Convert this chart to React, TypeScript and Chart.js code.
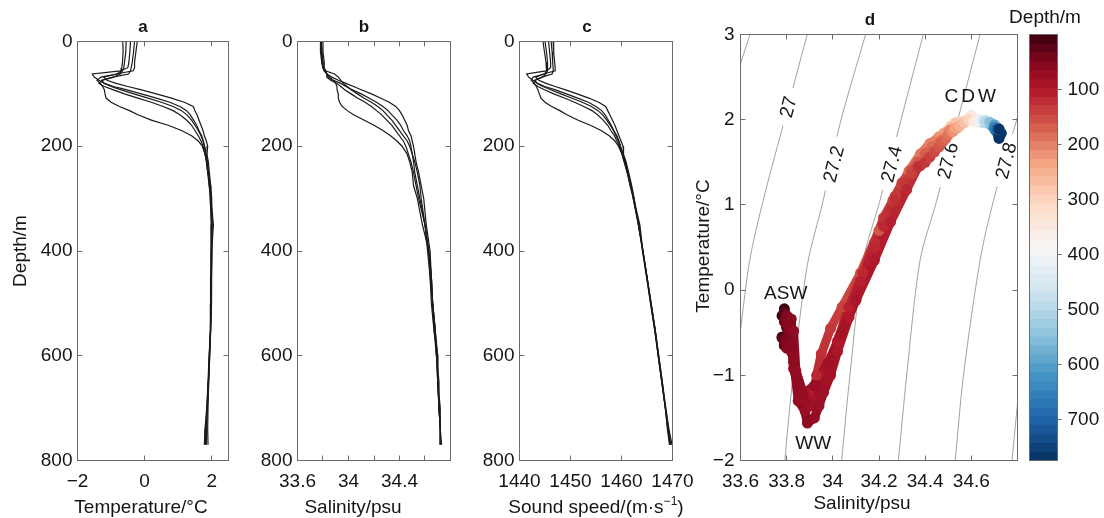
import React, { useEffect, useRef } from 'react';
import { Chart, registerables } from 'chart.js';

Chart.register(...registerables);

// ---------------- data ----------------
const DEPTHS = [0, 20, 40, 50, 56, 62, 68, 74, 80, 86, 92, 100, 108, 116, 124, 132, 140, 150, 160, 170, 180, 190, 200, 215, 230, 250, 275, 300, 350, 400, 450, 500, 550, 600, 650, 700, 740, 770];

const TEMP_1 = [-0.22, -0.26, -0.30, -0.30, -0.34, -0.85, -1.22, -1.12, -0.85, -0.50, -0.12, 0.35, 0.80, 1.18, 1.45, 1.50, 1.56, 1.62, 1.68, 1.74, 1.78, 1.84, 1.88, 1.86, 1.90, 1.93, 1.97, 2.00, 1.98, 2.00, 1.99, 1.98, 1.97, 1.94, 1.91, 1.89, 1.88, 1.89];
const TEMP_2 = [-0.30, -0.33, -0.37, -0.40, -0.42, -0.48, -0.95, -1.28, -1.20, -0.92, -0.55, -0.10, 0.35, 0.75, 1.05, 1.25, 1.36, 1.46, 1.55, 1.62, 1.70, 1.75, 1.79, 1.84, 1.88, 1.90, 1.95, 1.97, 2.02, 1.99, 1.98, 1.97, 1.96, 1.93, 1.90, 1.86, 1.82, 1.80];
const TEMP_3 = [-0.42, -0.44, -0.47, -0.50, -0.72, -1.56, -1.50, -1.36, -1.20, -1.00, -0.72, -0.32, 0.10, 0.50, 0.85, 1.10, 1.26, 1.40, 1.50, 1.60, 1.68, 1.74, 1.78, 1.82, 1.86, 1.90, 1.93, 1.98, 2.05, 2.00, 2.00, 1.99, 1.97, 1.94, 1.91, 1.87, 1.85, 1.84];
const TEMP_4 = [-0.55, -0.56, -0.60, -0.62, -0.66, -0.74, -0.92, -1.25, -1.36, -1.20, -0.95, -0.60, -0.20, 0.20, 0.55, 0.85, 1.05, 1.25, 1.40, 1.50, 1.60, 1.68, 1.74, 1.80, 1.85, 1.88, 1.96, 1.95, 2.00, 1.98, 1.97, 1.97, 1.96, 1.92, 1.89, 1.85, 1.80, 1.78];
const TEMP_5 = [-0.65, -0.64, -0.66, -0.68, -0.70, -0.82, -1.30, -1.42, -1.32, -1.25, -1.20, -1.18, -1.15, -1.00, -0.75, -0.45, -0.20, 0.20, 0.70, 1.10, 1.40, 1.60, 1.72, 1.80, 1.84, 1.88, 1.92, 1.97, 1.99, 2.01, 1.99, 1.98, 1.96, 1.93, 1.90, 1.86, 1.83, 1.82];

const SAL_1 = [33.79, 33.79, 33.80, 33.80, 33.82, 33.83, 33.87, 33.92, 33.98, 34.04, 34.10, 34.18, 34.25, 34.32, 34.37, 34.40, 34.42, 34.44, 34.46, 34.47, 34.49, 34.50, 34.51, 34.52, 34.53, 34.55, 34.57, 34.59, 34.61, 34.64, 34.65, 34.66, 34.68, 34.70, 34.70, 34.71, 34.72, 34.72];
const SAL_2 = [33.78, 33.79, 33.79, 33.80, 33.81, 33.83, 33.84, 33.88, 33.94, 33.98, 34.03, 34.10, 34.16, 34.22, 34.27, 34.31, 34.34, 34.38, 34.41, 34.43, 34.46, 34.48, 34.49, 34.50, 34.52, 34.54, 34.56, 34.57, 34.60, 34.63, 34.65, 34.66, 34.68, 34.69, 34.70, 34.71, 34.72, 34.72];
const SAL_3 = [33.80, 33.80, 33.81, 33.81, 33.82, 33.89, 33.92, 33.94, 33.96, 33.99, 34.02, 34.07, 34.12, 34.18, 34.23, 34.27, 34.30, 34.34, 34.37, 34.40, 34.43, 34.46, 34.48, 34.50, 34.51, 34.52, 34.54, 34.56, 34.60, 34.63, 34.64, 34.66, 34.67, 34.69, 34.71, 34.71, 34.72, 34.73];
const SAL_4 = [33.78, 33.78, 33.79, 33.80, 33.81, 33.83, 33.83, 33.86, 33.91, 33.94, 33.97, 34.02, 34.07, 34.13, 34.18, 34.22, 34.26, 34.30, 34.34, 34.37, 34.40, 34.43, 34.45, 34.47, 34.49, 34.51, 34.53, 34.55, 34.60, 34.62, 34.64, 34.65, 34.67, 34.70, 34.70, 34.72, 34.72, 34.72];
const SAL_5 = [33.79, 33.79, 33.80, 33.80, 33.82, 33.83, 33.85, 33.88, 33.90, 33.91, 33.91, 33.92, 33.92, 33.93, 33.95, 33.99, 34.04, 34.12, 34.20, 34.27, 34.33, 34.38, 34.42, 34.46, 34.48, 34.50, 34.51, 34.54, 34.58, 34.63, 34.65, 34.66, 34.68, 34.69, 34.70, 34.71, 34.72, 34.72];

const SOUND_1 = [1446.6, 1446.7, 1446.9, 1447.0, 1447.0, 1444.7, 1443.2, 1443.8, 1445.2, 1447.0, 1448.9, 1451.3, 1453.6, 1455.5, 1456.9, 1457.3, 1457.7, 1458.2, 1458.7, 1459.1, 1459.5, 1459.9, 1460.3, 1460.4, 1460.9, 1461.4, 1462.0, 1462.5, 1463.3, 1464.2, 1465.0, 1465.8, 1466.6, 1467.3, 1468.0, 1468.7, 1469.3, 1469.9];
const SOUND_2 = [1446.2, 1446.4, 1446.5, 1446.6, 1446.6, 1446.4, 1444.4, 1443.0, 1443.5, 1445.0, 1446.9, 1449.2, 1451.4, 1453.5, 1455.0, 1456.1, 1456.8, 1457.4, 1458.0, 1458.5, 1459.1, 1459.5, 1459.8, 1460.3, 1460.8, 1461.2, 1461.9, 1462.4, 1463.4, 1464.2, 1465.0, 1465.7, 1466.5, 1467.2, 1467.9, 1468.6, 1469.1, 1469.5];
const SOUND_3 = [1445.7, 1445.9, 1446.1, 1446.1, 1445.2, 1441.4, 1441.8, 1442.6, 1443.5, 1444.6, 1446.1, 1448.1, 1450.2, 1452.3, 1454.1, 1455.4, 1456.3, 1457.1, 1457.8, 1458.4, 1458.9, 1459.4, 1459.8, 1460.2, 1460.7, 1461.2, 1461.7, 1462.4, 1463.6, 1464.2, 1465.0, 1465.8, 1466.6, 1467.3, 1468.0, 1468.6, 1469.2, 1469.7];
const SOUND_4 = [1445.0, 1445.3, 1445.5, 1445.5, 1445.5, 1445.2, 1444.5, 1443.1, 1442.7, 1443.6, 1444.9, 1446.7, 1448.8, 1450.8, 1452.6, 1454.2, 1455.3, 1456.4, 1457.3, 1457.9, 1458.6, 1459.1, 1459.6, 1460.1, 1460.6, 1461.1, 1461.9, 1462.3, 1463.4, 1464.1, 1464.9, 1465.7, 1466.5, 1467.2, 1467.9, 1468.6, 1469.0, 1469.4];
const SOUND_5 = [1444.6, 1444.9, 1445.2, 1445.3, 1445.3, 1444.9, 1442.7, 1442.3, 1442.9, 1443.3, 1443.6, 1443.9, 1444.2, 1445.0, 1446.3, 1447.9, 1449.3, 1451.4, 1453.9, 1456.0, 1457.6, 1458.7, 1459.4, 1460.1, 1460.5, 1461.1, 1461.7, 1462.3, 1463.3, 1464.2, 1465.0, 1465.8, 1466.6, 1467.2, 1467.9, 1468.6, 1469.1, 1469.6];

const TEMP_PROFILES = [TEMP_1, TEMP_2, TEMP_3, TEMP_4, TEMP_5];
const SAL_PROFILES = [SAL_1, SAL_2, SAL_3, SAL_4, SAL_5];
const SOUND_PROFILES = [SOUND_1, SOUND_2, SOUND_3, SOUND_4, SOUND_5];

// tick labels
const DEPTH_TICK_LABELS = [0, 200, 400, 600, 800];
const TEMP_TICK_LABELS = [-2, 0, 2];
const SAL_TICK_LABELS_B = [33.6, 34, 34.4];
const SOUND_TICK_LABELS = [1440, 1450, 1460, 1470];
const TS_SAL_TICK_LABELS = [33.6, 33.8, 34, 34.2, 34.4, 34.6];
const TS_TEMP_TICK_LABELS = [-2, -1, 0, 1, 2, 3];
const CB_TICK_LABELS = [100, 200, 300, 400, 500, 600, 700];

// isopycnals (sigma-theta)
const ISO_NAMES = ['26.8', '27', '27.2', '27.4', '27.6', '27.8', '28'];
const ISO_268_S = [33.665, 33.58];
const ISO_268_T = [3.2, 2.49];
const ISO_270_S = [33.91, 33.889, 33.778, 33.698, 33.64, 33.6, 33.59];
const ISO_270_T = [3.2, 3, 1.87, 1.05, 0.35, -0.47, -0.7];
const ISO_272_S = [34.165, 34.142, 34.031, 33.958, 33.89, 33.828, 33.792, 33.788];
const ISO_272_T = [3.2, 3, 1.95, 1.05, 0.3, -1, -2, -2.2];
const ISO_274_S = [34.415, 34.392, 34.204, 34.132, 34.074, 34.038, 34.03];
const ISO_274_T = [3.2, 3, 1.05, 0.35, -1, -2, -2.2];
const ISO_276_S = [34.66, 34.638, 34.45, 34.378, 34.32, 34.284, 34.276];
const ISO_276_T = [3.2, 3, 1.05, 0.35, -1, -2, -2.2];
const ISO_278_S = [34.85, 34.8, 34.696, 34.638, 34.566, 34.53, 34.522];
const ISO_278_T = [2.5, 2.03, 1.05, 0.35, -1, -2, -2.2];
const ISO_280_S = [34.768, 34.776, 34.812, 34.85];
const ISO_280_T = [-2.2, -2, -1, 0];
const ISO_LINES = [
  [ISO_268_S, ISO_268_T], [ISO_270_S, ISO_270_T], [ISO_272_S, ISO_272_T], [ISO_274_S, ISO_274_T],
  [ISO_276_S, ISO_276_T], [ISO_278_S, ISO_278_T], [ISO_280_S, ISO_280_T],
];
const ISO_LABEL_TEXT = ['27', '27.2', '27.4', '27.6', '27.8'];
const ISO_LABEL_S = [33.806, 34.003, 34.254, 34.498, 34.75];
const ISO_LABEL_T = [2.15, 1.48, 1.48, 1.52, 1.52];
const ISO_SLOPE = 0.096; // dS per degree along the isopycnals

const WATER_MASS = ['ASW', 'WW', 'CDW'];
const WATER_MASS_S = [33.796, 33.915, 34.595];
const WATER_MASS_T = [-0.1, -1.86, 2.205];

// ---------------- style ----------------
const FONT_FAMILY = '"Liberation Sans", Arial, Helvetica, sans-serif';
const FONT_SIZE = 19;
const TEXT_COLOR = '#151515';
const AXIS_COLOR = '#6c6c6c';
const PROFILE_COLOR = '#1a1a1a';
const ISO_COLOR = '#a2a2a2';

const CMAP_POS = [0, 0.06, 0.13, 0.22, 0.3, 0.4, 0.5, 0.6, 0.7, 0.8, 0.9, 1];
const CMAP_RGB = [[55, 0, 16], [128, 6, 30], [178, 24, 43], [214, 96, 77], [244, 165, 130], [253, 219, 199], [247, 247, 247], [209, 229, 240], [146, 197, 222], [67, 147, 195], [33, 102, 172], [5, 48, 97]];
const DEPTH_CMAX = 775;
const CB_LEVELS = 48;

Chart.defaults.font.family = FONT_FAMILY;
Chart.defaults.font.size = FONT_SIZE;
Chart.defaults.color = TEXT_COLOR;

function depthColor(d: number): string {
  const f = Math.min(1, Math.max(0, d / DEPTH_CMAX));
  let i = 0;
  while (i < CMAP_POS.length - 2 && f > CMAP_POS[i + 1]) i++;
  const t = (f - CMAP_POS[i]) / (CMAP_POS[i + 1] - CMAP_POS[i]);
  const c = CMAP_RGB[i].map((v, k) => Math.round(v + (CMAP_RGB[i + 1][k] - v) * t));
  return `rgb(${c[0]},${c[1]},${c[2]})`;
}

type Rect = { left: number; top: number; width: number; height: number };
type Area = { left: number; top: number; right: number; bottom: number };
type RichPart = { t: string; size: number; rise: number };
type TextItem = {
  text: string; x: number; y: number; data?: boolean; size?: number; bold?: boolean;
  rotate?: number; align?: CanvasTextAlign; spacing?: number; rich?: RichPart[];
};

// layout (page pixels)
const RECT_A: Rect = { left: 0, top: 0, width: 250, height: 518 };
const RECT_B: Rect = { left: 235, top: 0, width: 235, height: 518 };
const RECT_C: Rect = { left: 455, top: 0, width: 250, height: 518 };
const RECT_D: Rect = { left: 680, top: 0, width: 350, height: 518 };
const RECT_CB: Rect = { left: 995, top: 0, width: 109, height: 518 };
const AREA_A: Area = { left: 77.5, top: 41.5, right: 228.5, bottom: 460.5 };
const AREA_B: Area = { left: 297.5, top: 41.5, right: 450.5, bottom: 460.5 };
const AREA_C: Area = { left: 519.5, top: 41.5, right: 672.5, bottom: 460.5 };
const AREA_D: Area = { left: 740.5, top: 34.5, right: 1017.5, bottom: 460.5 };
const AREA_CB: Area = { left: 1029.5, top: 34.5, right: 1057.5, bottom: 460.5 };

// Left y axis and bottom x axis take all the space outside the plot box.
function paddingLeftBottom(c: Rect, a: Area) {
  return { left: 0, top: a.top - c.top, right: c.left + c.width - a.right, bottom: 0 };
}
function fitTo(size: number) {
  return (s: any) => {
    if (s.isHorizontal()) s.height = size; else s.width = size;
    s.paddingLeft = 0; s.paddingRight = 0; s.paddingTop = 0; s.paddingBottom = 0;
  };
}

const fmt = (v: number) => (Math.abs(v) < 1e-9 ? '0' : String(+v.toFixed(4))).replace('-', '\u2212');
const labelIf = (list: number[]) => (v: number | string) => {
  const n = Number(v);
  return list.some((l) => Math.abs(l - n) < 1e-6) ? fmt(n) : '';
};

const fontStr = (size: number, bold: boolean) => `${bold ? 'bold ' : ''}${size}px ${FONT_FAMILY}`;
const crisp = (v: number) => Math.round(v - 0.5) + 0.5;

function drawItem(chart: any, rect: Rect, it: TextItem) {
  const ctx: CanvasRenderingContext2D = chart.ctx;
  let x = it.x;
  let y = it.y;
  if (it.data) {
    x = chart.scales.x.getPixelForValue(it.x);
    y = chart.scales.y.getPixelForValue(it.y);
  } else {
    x -= rect.left;
    y -= rect.top;
  }
  ctx.save();
  ctx.fillStyle = TEXT_COLOR;
  ctx.textBaseline = 'alphabetic';
  ctx.translate(x, y);
  if (it.rotate) ctx.rotate(it.rotate);
  if (it.rich) {
    const widths = it.rich.map((p) => { ctx.font = fontStr(p.size, false); return ctx.measureText(p.t).width; });
    let cx = -widths.reduce((a, b) => a + b, 0) / 2;
    ctx.textAlign = 'left';
    it.rich.forEach((p, i) => { ctx.font = fontStr(p.size, false); ctx.fillText(p.t, cx, -p.rise); cx += widths[i]; });
  } else {
    ctx.font = fontStr(it.size ?? FONT_SIZE, !!it.bold);
    const anyCtx = ctx as any;
    if (it.spacing) anyCtx.letterSpacing = `${it.spacing}px`;
    ctx.textAlign = it.align ?? 'center';
    ctx.fillText(it.text, it.spacing ? it.spacing / 2 : 0, 0);
    if (it.spacing) anyCtx.letterSpacing = '0px';
  }
  ctx.restore();
}

function textPlugin(rect: Rect, items: TextItem[]) {
  return {
    id: 'panelTexts',
    afterDraw(chart: any) { items.forEach((it) => drawItem(chart, rect, it)); },
  };
}

const frameTicksPlugin = {
  id: 'frameTicks',
  afterDatasetsDraw(chart: any) {
    const { ctx, chartArea: a, scales } = chart;
    const L = 5;
    ctx.save();
    ctx.strokeStyle = AXIS_COLOR;
    ctx.lineWidth = 1;
    ctx.beginPath();
    for (const t of scales.x.ticks) {
      const px = crisp(scales.x.getPixelForValue(t.value));
      ctx.moveTo(px, a.bottom); ctx.lineTo(px, a.bottom - L);
      ctx.moveTo(px, a.top); ctx.lineTo(px, a.top + L);
    }
    for (const t of scales.y.ticks) {
      const py = crisp(scales.y.getPixelForValue(t.value));
      ctx.moveTo(a.left, py); ctx.lineTo(a.left + L, py);
      ctx.moveTo(a.right, py); ctx.lineTo(a.right - L, py);
    }
    ctx.stroke();
    ctx.strokeRect(a.left, a.top, a.right - a.left, a.bottom - a.top);
    ctx.restore();
  },
};

const tickFont = { family: FONT_FAMILY, size: FONT_SIZE };

function baseOptions(padding: any) {
  return {
    responsive: false,
    animation: false,
    devicePixelRatio: 1,
    events: [],
    layout: { padding },
    plugins: { legend: { display: false }, tooltip: { enabled: false }, title: { display: false } },
  };
}

function axisX(min: number, max: number, step: number, labels: number[], pad: number, size: number) {
  return {
    type: 'linear', position: 'bottom', min, max, afterFit: fitTo(size),
    grid: { display: false, drawTicks: false }, border: { display: false },
    ticks: { stepSize: step, autoSkip: false, maxRotation: 0, minRotation: 0, includeBounds: false, padding: pad, font: tickFont, color: TEXT_COLOR, callback: labelIf(labels) },
  };
}

function axisY(min: number, max: number, step: number, labels: number[], reverse: boolean, pad: number, size: number) {
  return {
    type: 'linear', position: 'left', min, max, reverse, afterFit: fitTo(size),
    grid: { display: false, drawTicks: false }, border: { display: false },
    ticks: { stepSize: step, autoSkip: false, includeBounds: false, padding: pad, font: tickFont, color: TEXT_COLOR, callback: labelIf(labels) },
  };
}

function profileConfig(rect: Rect, area: Area, profiles: number[][], xMin: number, xMax: number, xStep: number, xLabels: number[], texts: TextItem[]) {
  return {
    type: 'scatter',
    data: {
      datasets: profiles.map((vals, i) => ({
        label: `Profile ${i + 1}`,
        data: vals.map((v, k) => ({ x: v, y: DEPTHS[k] })),
        showLine: true,
        borderColor: PROFILE_COLOR,
        borderWidth: 1.2,
        pointRadius: 0,
        tension: 0,
      })),
    },
    options: {
      ...baseOptions(paddingLeftBottom(rect, area)),
      scales: {
        x: axisX(xMin, xMax, xStep, xLabels, 10, rect.top + rect.height - area.bottom),
        y: axisY(0, 800, 200, DEPTH_TICK_LABELS, true, 5, area.left - rect.left),
      },
    },
    plugins: [frameTicksPlugin, textPlugin(rect, texts)],
  };
}

const isoLabelPlugin = {
  id: 'isoLabels',
  afterDatasetDraw(chart: any, args: any) {
    if (args.index !== 0) return;
    const { ctx, scales: { x, y } } = chart;
    ctx.save();
    ctx.font = fontStr(FONT_SIZE, false);
    ISO_LABEL_TEXT.forEach((txt, i) => {
      const s = ISO_LABEL_S[i];
      const t = ISO_LABEL_T[i];
      const px = x.getPixelForValue(s);
      const py = y.getPixelForValue(t);
      const dx = x.getPixelForValue(s + ISO_SLOPE) - px;
      const dy = y.getPixelForValue(t + 1) - py;
      const ang = Math.atan2(dy, dx);
      const w = ctx.measureText(txt).width;
      ctx.save();
      ctx.translate(px, py);
      ctx.rotate(ang);
      ctx.fillStyle = '#ffffff';
      ctx.fillRect(-w / 2 - 9, -8, w + 18, 16);
      ctx.fillStyle = TEXT_COLOR;
      ctx.textAlign = 'center';
      ctx.textBaseline = 'middle';
      ctx.fillText(txt, 0, 1);
      ctx.restore();
    });
    ctx.restore();
  },
};

function tsConfig() {
  const isoSets = ISO_LINES.map(([s, t], i) => ({
    label: `sigma ${ISO_NAMES[i]}`,
    data: s.map((v, k) => ({ x: v, y: t[k] })),
    showLine: true,
    borderColor: ISO_COLOR,
    borderWidth: 1,
    pointRadius: 0,
    tension: 0.3,
    order: 10,
  }));
  const lineSets = TEMP_PROFILES.map((tp, i) => ({
    label: `TS line ${i + 1}`,
    data: SAL_PROFILES[i].map((s, k) => ({ x: s, y: tp[k] })),
    showLine: true,
    borderWidth: 9,
    borderCapStyle: 'round',
    borderJoinStyle: 'round',
    borderColor: depthColor(0),
    pointRadius: 0,
    order: 5,
    segment: { borderColor: (c: any) => depthColor((DEPTHS[c.p0DataIndex] + DEPTHS[c.p1DataIndex]) / 2) },
  }));
  const pointSets = TEMP_PROFILES.map((tp, i) => ({
    label: `TS points ${i + 1}`,
    data: SAL_PROFILES[i].map((s, k) => ({ x: s, y: tp[k] })),
    showLine: false,
    pointRadius: 5.5,
    pointBorderWidth: 0,
    pointBorderColor: 'rgba(0,0,0,0)',
    pointBackgroundColor: DEPTHS.map(depthColor),
    order: 1,
  }));
  const texts: TextItem[] = [
    { text: 'd', x: 870, y: 25, bold: true, size: 17 },
    { text: 'Salinity/psu', x: 862, y: 509 },
    { text: 'Temperature/°C', x: 709, y: 246, rotate: -Math.PI / 2 },
    ...WATER_MASS.map((w, i) => ({ text: w, x: WATER_MASS_S[i], y: WATER_MASS_T[i], data: true, spacing: w === 'CDW' ? 3 : 0 })),
  ];
  return {
    type: 'scatter',
    data: { datasets: [...isoSets, ...lineSets, ...pointSets] },
    options: {
      ...baseOptions(paddingLeftBottom(RECT_D, AREA_D)),
      scales: {
        x: axisX(33.6, 34.8, 0.2, TS_SAL_TICK_LABELS, 10, RECT_D.top + RECT_D.height - AREA_D.bottom),
        y: axisY(-2, 3, 1, TS_TEMP_TICK_LABELS, false, 6, AREA_D.left - RECT_D.left),
      },
    },
    plugins: [isoLabelPlugin, frameTicksPlugin, textPlugin(RECT_D, texts)],
  };
}

const colorbarFramePlugin = {
  id: 'cbFrame',
  afterDatasetsDraw(chart: any) {
    const { ctx, chartArea: a, scales } = chart;
    ctx.save();
    ctx.strokeStyle = AXIS_COLOR;
    ctx.lineWidth = 1;
    ctx.strokeRect(a.left, a.top, a.right - a.left, a.bottom - a.top);
    ctx.beginPath();
    for (const v of CB_TICK_LABELS) {
      const py = crisp(scales.y.getPixelForValue(v));
      ctx.moveTo(a.right, py); ctx.lineTo(a.right + 4, py);
    }
    ctx.stroke();
    ctx.restore();
  },
};

function colorbarConfig() {
  const edges = Array.from({ length: CB_LEVELS + 1 }, (_, i) => (i * DEPTH_CMAX) / CB_LEVELS);
  const datasets = edges.slice(0, -1).map((lo, k) => ({
    label: `level ${k}`,
    data: [[lo, edges[k + 1]]],
    backgroundColor: depthColor((lo + edges[k + 1]) / 2),
    borderWidth: 0,
    grouped: false,
    barPercentage: 1,
    categoryPercentage: 1,
  }));
  const texts: TextItem[] = [{ text: 'Depth/m', x: 1045, y: 23 }];
  const rightSpace = RECT_CB.left + RECT_CB.width - AREA_CB.right;
  return {
    type: 'bar',
    data: { labels: ['depth'], datasets },
    options: {
      ...baseOptions({ left: AREA_CB.left - RECT_CB.left, top: AREA_CB.top - RECT_CB.top, right: 0, bottom: RECT_CB.top + RECT_CB.height - AREA_CB.bottom }),
      scales: {
        x: { type: 'category', display: false },
        y: {
          type: 'linear', position: 'right', min: 0, max: DEPTH_CMAX, reverse: true, afterFit: fitTo(rightSpace),
          grid: { display: false, drawTicks: false }, border: { display: false },
          ticks: { stepSize: 100, autoSkip: false, includeBounds: false, padding: 10, font: tickFont, color: TEXT_COLOR, callback: labelIf(CB_TICK_LABELS) },
        },
      },
    },
    plugins: [colorbarFramePlugin, textPlugin(RECT_CB, texts)],
  };
}

function ChartCanvas({ rect, make }: { rect: Rect; make: () => any }) {
  const ref = useRef<HTMLCanvasElement>(null);
  useEffect(() => {
    const chart = new Chart(ref.current as HTMLCanvasElement, make());
    return () => chart.destroy();
  }, []);
  return (
    <canvas
      ref={ref}
      width={rect.width}
      height={rect.height}
      style={{ position: 'absolute', left: rect.left, top: rect.top, width: rect.width, height: rect.height }}
    />
  );
}

const TEXTS_A: TextItem[] = [
  { text: 'a', x: 143, y: 32, bold: true, size: 17 },
  { text: 'Temperature/°C', x: 141, y: 513 },
  { text: 'Depth/m', x: 26, y: 251, rotate: -Math.PI / 2 },
];
const TEXTS_B: TextItem[] = [
  { text: 'b', x: 364, y: 32, bold: true, size: 17 },
  { text: 'Salinity/psu', x: 353, y: 513 },
];
const TEXTS_C: TextItem[] = [
  { text: 'c', x: 587, y: 32, bold: true, size: 17 },
  {
    text: 'Sound speed/(m·s⁻¹)', x: 596, y: 513,
    rich: [{ t: 'Sound speed/(m·s', size: FONT_SIZE, rise: 0 }, { t: '\u22121', size: 12, rise: 8 }, { t: ')', size: FONT_SIZE, rise: 0 }],
  },
];

export default function App() {
  return (
    <div style={{ position: 'fixed', left: 0, top: 0, width: 1104, height: 518, background: '#ffffff', overflow: 'hidden' }}>
      <ChartCanvas rect={RECT_A} make={() => profileConfig(RECT_A, AREA_A, TEMP_PROFILES, -2, 2.5, 2, TEMP_TICK_LABELS, TEXTS_A)} />
      <ChartCanvas rect={RECT_B} make={() => profileConfig(RECT_B, AREA_B, SAL_PROFILES, 33.6, 34.8, 0.2, SAL_TICK_LABELS_B, TEXTS_B)} />
      <ChartCanvas rect={RECT_C} make={() => profileConfig(RECT_C, AREA_C, SOUND_PROFILES, 1440, 1470, 10, SOUND_TICK_LABELS, TEXTS_C)} />
      <ChartCanvas rect={RECT_D} make={tsConfig} />
      <ChartCanvas rect={RECT_CB} make={colorbarConfig} />
    </div>
  );
}
